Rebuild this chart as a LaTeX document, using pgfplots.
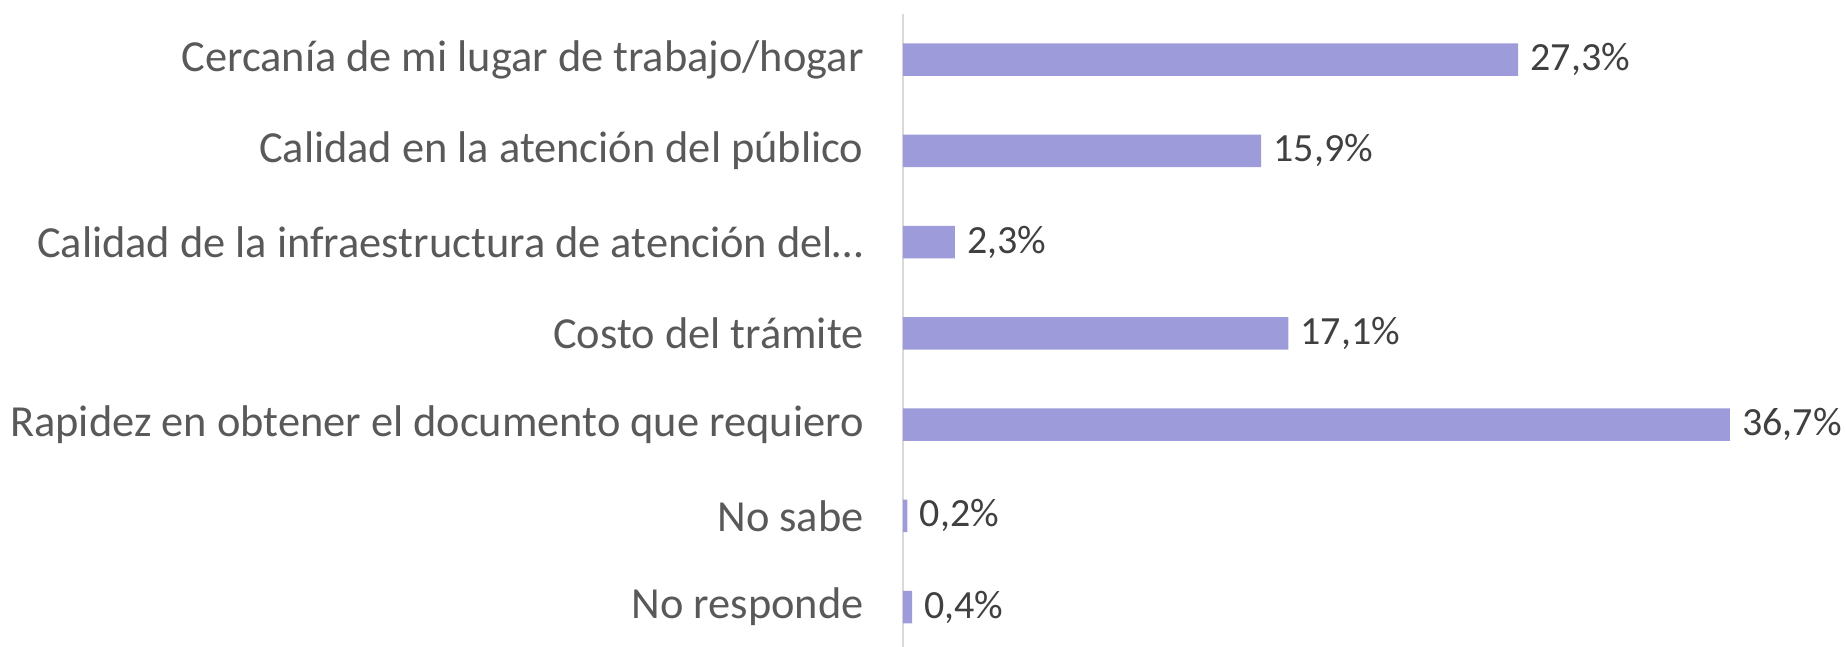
\documentclass[border=0pt]{standalone}
\usepackage{pgfplots}
\pgfplotsset{compat=1.18}
\usepackage{fontspec}
\setmainfont{Carlito}
\definecolor{barcol}{HTML}{9D9BD9}
\definecolor{labcol}{HTML}{595959}
\definecolor{valcol}{HTML}{404040}
\definecolor{axcol}{HTML}{D9D9D9}
\begin{document}
\begin{tikzpicture}
\begin{axis}[
  at={(0,0)}, anchor=south west,
  scale only axis,
  width=450.6pt, height=319.375pt,
  xmin=0, xmax=40,
  ymin=-0.5, ymax=6.5,
  xbar, bar width=16.25pt,
  axis x line=none,
  axis y line*=left,
  y axis line style={draw=axcol, line width=0.8pt},
  ytick={0,1,2,3,4,5,6},
  yticklabels={No responde,No sabe,Rapidez en obtener el documento que requiero,Costo del trámite,Calidad de la infraestructura de atención del…,Calidad en la atención del público,Cercanía de mi lugar de trabajo/hogar},
  major tick length=0pt,
  yticklabel style={font=\fontsize{22.2}{26}\selectfont, text=labcol, inner sep=0pt, xshift=-19.5pt},
  point meta=explicit symbolic,
  nodes near coords,
  nodes near coords style={font=\fontsize{20}{24}\selectfont, text=valcol, anchor=west, inner sep=0pt, xshift=6pt},
  clip=false,
]
\addplot[fill=barcol, draw=none] table[x=v, y=p, meta=l] {
p v l
0 0.4 0,4\%
1 0.2 0,2\%
2 36.7 36,7\%
3 17.1 17,1\%
4 2.3 2,3\%
5 15.9 15,9\%
6 27.3 27,3\%
};
\end{axis}
\pgfresetboundingbox
\path[use as bounding box] (-451.5pt,2.875pt) rectangle (471.5pt,326.375pt);
\end{tikzpicture}
\end{document}
